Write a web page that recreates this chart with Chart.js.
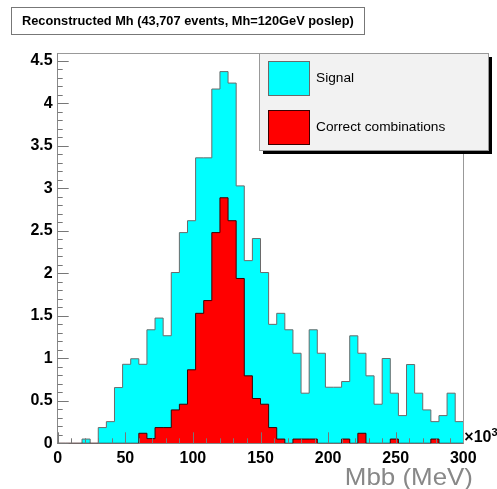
<!DOCTYPE html>
<html>
<head>
<meta charset="utf-8">
<script src="https://cdn.jsdelivr.net/npm/chart.js@4.4.1/dist/chart.umd.min.js"></script>
<style>
  body { margin: 0; background: #fff; }
  #wrap { width: 497px; height: 489px; }
</style>
</head>
<body>
<div id="wrap"><canvas id="mbbChart" width="497" height="489"></canvas></div>
<script>
// Mbb histogram, 50 bins of 6 (x10^3 MeV) between 0 and 300
const binWidth = 6;
const signal = [
  0, 0, 0, 0.05, 0, 0.185, 0.255, 0.656, 0.93, 0.995,
  0.93, 1.336, 1.474, 1.266, 2.01, 2.48, 2.62, 3.36, 3.36, 4.17,
  4.375, 4.24, 3.03, 2.15, 2.41, 2.01, 1.40, 1.53, 1.336, 1.06,
  0.59, 1.336, 1.06, 0.66, 0.66, 0.727, 1.265, 1.06, 0.794, 0.46,
  0.998, 0.59, 0.326, 0.927, 0.59, 0.393, 0.255, 0.326, 0.59, 0.255
];
const correct = [
  0, 0, 0, 0, 0, 0, 0, 0, 0, 0,
  0.118, 0.055, 0.185, 0.185, 0.393, 0.46, 0.865, 1.53, 1.68, 2.48,
  2.89, 2.62, 1.94, 0.794, 0.527, 0.46, 0.185, 0.05, 0, 0.05,
  0.05, 0.05, 0, 0, 0, 0.05, 0, 0.118, 0, 0,
  0, 0.05, 0, 0, 0, 0, 0.05, 0, 0, 0
];
const xTicks = [0, 50, 100, 150, 200, 250, 300];
const xTickLabels = ['0', '50', '100', '150', '200', '250', '300'];
const yTicks = [0, 0.5, 1, 1.5, 2, 2.5, 3, 3.5, 4, 4.5];
const yTickLabels = ['0', '0.5', '1', '1.5', '2', '2.5', '3', '3.5', '4', '4.5'];
const yMax = 4.594;

const titleText = 'Reconstructed Mh (43,707 events, Mh=120GeV poslep)';
const seriesNames = ['Signal', 'Correct combinations'];
const seriesColors = ['#00ffff', '#ff0000'];
const lineColors = ['#6a6a6a', '#3a0000'];

// step points at bin low edges, plus the closing edge
function toSteps(values) {
  const pts = values.map((v, i) => ({ x: i * binWidth, y: v }));
  pts.push({ x: values.length * binWidth, y: values[values.length - 1] });
  return pts;
}

const FONT = "'Liberation Sans', Arial, Helvetica, sans-serif";

const rootStyle = {
  id: 'rootStyle',
  afterDatasetsDraw(chart) {
    const ctx = chart.ctx;
    const xs = chart.scales.x, ys = chart.scales.y;
    const a = chart.chartArea;
    ctx.save();
    ctx.strokeStyle = '#777';
    ctx.lineWidth = 1;
    ctx.beginPath();
    // x ticks inside the frame
    for (let v = 0; v <= 300; v += 10) {
      const px = Math.round(xs.getPixelForValue(v)) + 0.5;
      const len = v % 50 === 0 ? 11 : 5;
      ctx.moveTo(px, a.bottom);
      ctx.lineTo(px, a.bottom - len);
    }
    // y ticks inside the frame
    for (let k = 0; k <= 45; k++) {
      const v = k / 10;
      const py = Math.round(ys.getPixelForValue(v)) + 0.5;
      const len = k % 5 === 0 ? 11 : 5;
      ctx.moveTo(a.left, py);
      ctx.lineTo(a.left + len, py);
    }
    ctx.stroke();
    // top and right sides of the frame
    ctx.strokeStyle = '#999';
    ctx.beginPath();
    ctx.moveTo(a.left, Math.round(a.top) + 0.5);
    ctx.lineTo(Math.round(a.right) + 0.5, Math.round(a.top) + 0.5);
    ctx.lineTo(Math.round(a.right) + 0.5, a.bottom);
    ctx.stroke();
    ctx.restore();
  },
  afterDraw(chart) {
    const ctx = chart.ctx;
    const a = chart.chartArea;
    ctx.save();

    // title pave
    ctx.fillStyle = '#fff';
    ctx.fillRect(11, 7, 353, 27);
    ctx.strokeStyle = '#777';
    ctx.lineWidth = 1;
    ctx.strokeRect(11.5, 7.5, 353, 27);
    ctx.fillStyle = '#000';
    ctx.font = 'bold 12.8px ' + FONT;
    ctx.textBaseline = 'middle';
    ctx.textAlign = 'left';
    ctx.fillText(titleText, 22, 21);

    // x10^3 multiplier
    ctx.font = 'bold 16px ' + FONT;
    ctx.textBaseline = 'alphabetic';
    ctx.fillText('\u00d710', a.right + 1, 442);
    const w = ctx.measureText('\u00d710').width;
    ctx.font = 'bold 11px ' + FONT;
    ctx.fillText('3', a.right + 1 + w, 436);

    // axis title
    ctx.save();
    ctx.fillStyle = '#888';
    ctx.font = '24px ' + FONT;
    ctx.textAlign = 'right';
    ctx.translate(473, 485);
    ctx.scale(1.08, 1);
    ctx.fillText('Mbb (MeV)', 0, 0);
    ctx.restore();

    // legend box with drop shadow
    const lx = 259, ly = 53, lw = 229, lh = 97;
    ctx.fillStyle = '#000';
    ctx.fillRect(lx + 4, ly + 4, lw, lh);
    ctx.fillStyle = '#f2f2f2';
    ctx.fillRect(lx, ly, lw, lh);
    ctx.strokeStyle = '#999';
    ctx.strokeRect(lx + 0.5, ly + 0.5, lw, lh);
    const rows = [78, 127];
    rows.forEach((cy, i) => {
      ctx.fillStyle = seriesColors[i];
      ctx.fillRect(268, cy - 17, 41, 34);
      ctx.strokeStyle = lineColors[i];
      ctx.strokeRect(268.5, cy - 16.5, 41, 34);
      ctx.fillStyle = '#000';
      ctx.font = '13.7px ' + FONT;
      ctx.textAlign = 'left';
      ctx.textBaseline = 'middle';
      ctx.fillText(seriesNames[i], 316, cy);
    });
    ctx.restore();
  }
};

new Chart(document.getElementById('mbbChart'), {
  type: 'line',
  data: {
    datasets: [
      {
        label: seriesNames[1],
        data: toSteps(correct),
        backgroundColor: seriesColors[1],
        borderColor: lineColors[1],
        borderWidth: 1,
        fill: 'origin',
        stepped: 'before',
        pointRadius: 0,
        order: 0
      },
      {
        label: seriesNames[0],
        data: toSteps(signal),
        backgroundColor: seriesColors[0],
        borderColor: lineColors[0],
        borderWidth: 1,
        fill: 'origin',
        stepped: 'before',
        pointRadius: 0,
        order: 1
      }
    ]
  },
  options: {
    responsive: false,
    animation: false,
    layout: { padding: { top: 53, right: 33.7, left: 0, bottom: 0 } },
    plugins: {
      legend: { display: false },
      title: { display: false },
      tooltip: { enabled: false }
    },
    scales: {
      x: {
        type: 'linear',
        min: 0,
        max: 300,
        afterBuildTicks: (scale) => { scale.ticks = xTicks.map(v => ({ value: v })); },
        afterFit: (scale) => { scale.height = 45.7; },
        grid: { display: false, drawTicks: false },
        border: { display: true, color: '#888', width: 1 },
        ticks: {
          callback: (v, i) => xTickLabels[i],
          color: '#000',
          font: { family: FONT, size: 16, weight: 'bold' },
          padding: 6,
          maxRotation: 0,
          autoSkip: false
        }
      },
      y: {
        min: 0,
        max: yMax,
        afterBuildTicks: (scale) => { scale.ticks = yTicks.map(v => ({ value: v })); },
        afterFit: (scale) => { scale.width = 57.7; },
        grid: { display: false, drawTicks: false },
        border: { display: true, color: '#888', width: 1 },
        ticks: {
          callback: (v, i) => yTickLabels[i],
          color: '#000',
          font: { family: FONT, size: 16, weight: 'bold' },
          padding: 5,
          autoSkip: false
        }
      }
    }
  },
  plugins: [rootStyle]
});
</script>
</body>
</html>
